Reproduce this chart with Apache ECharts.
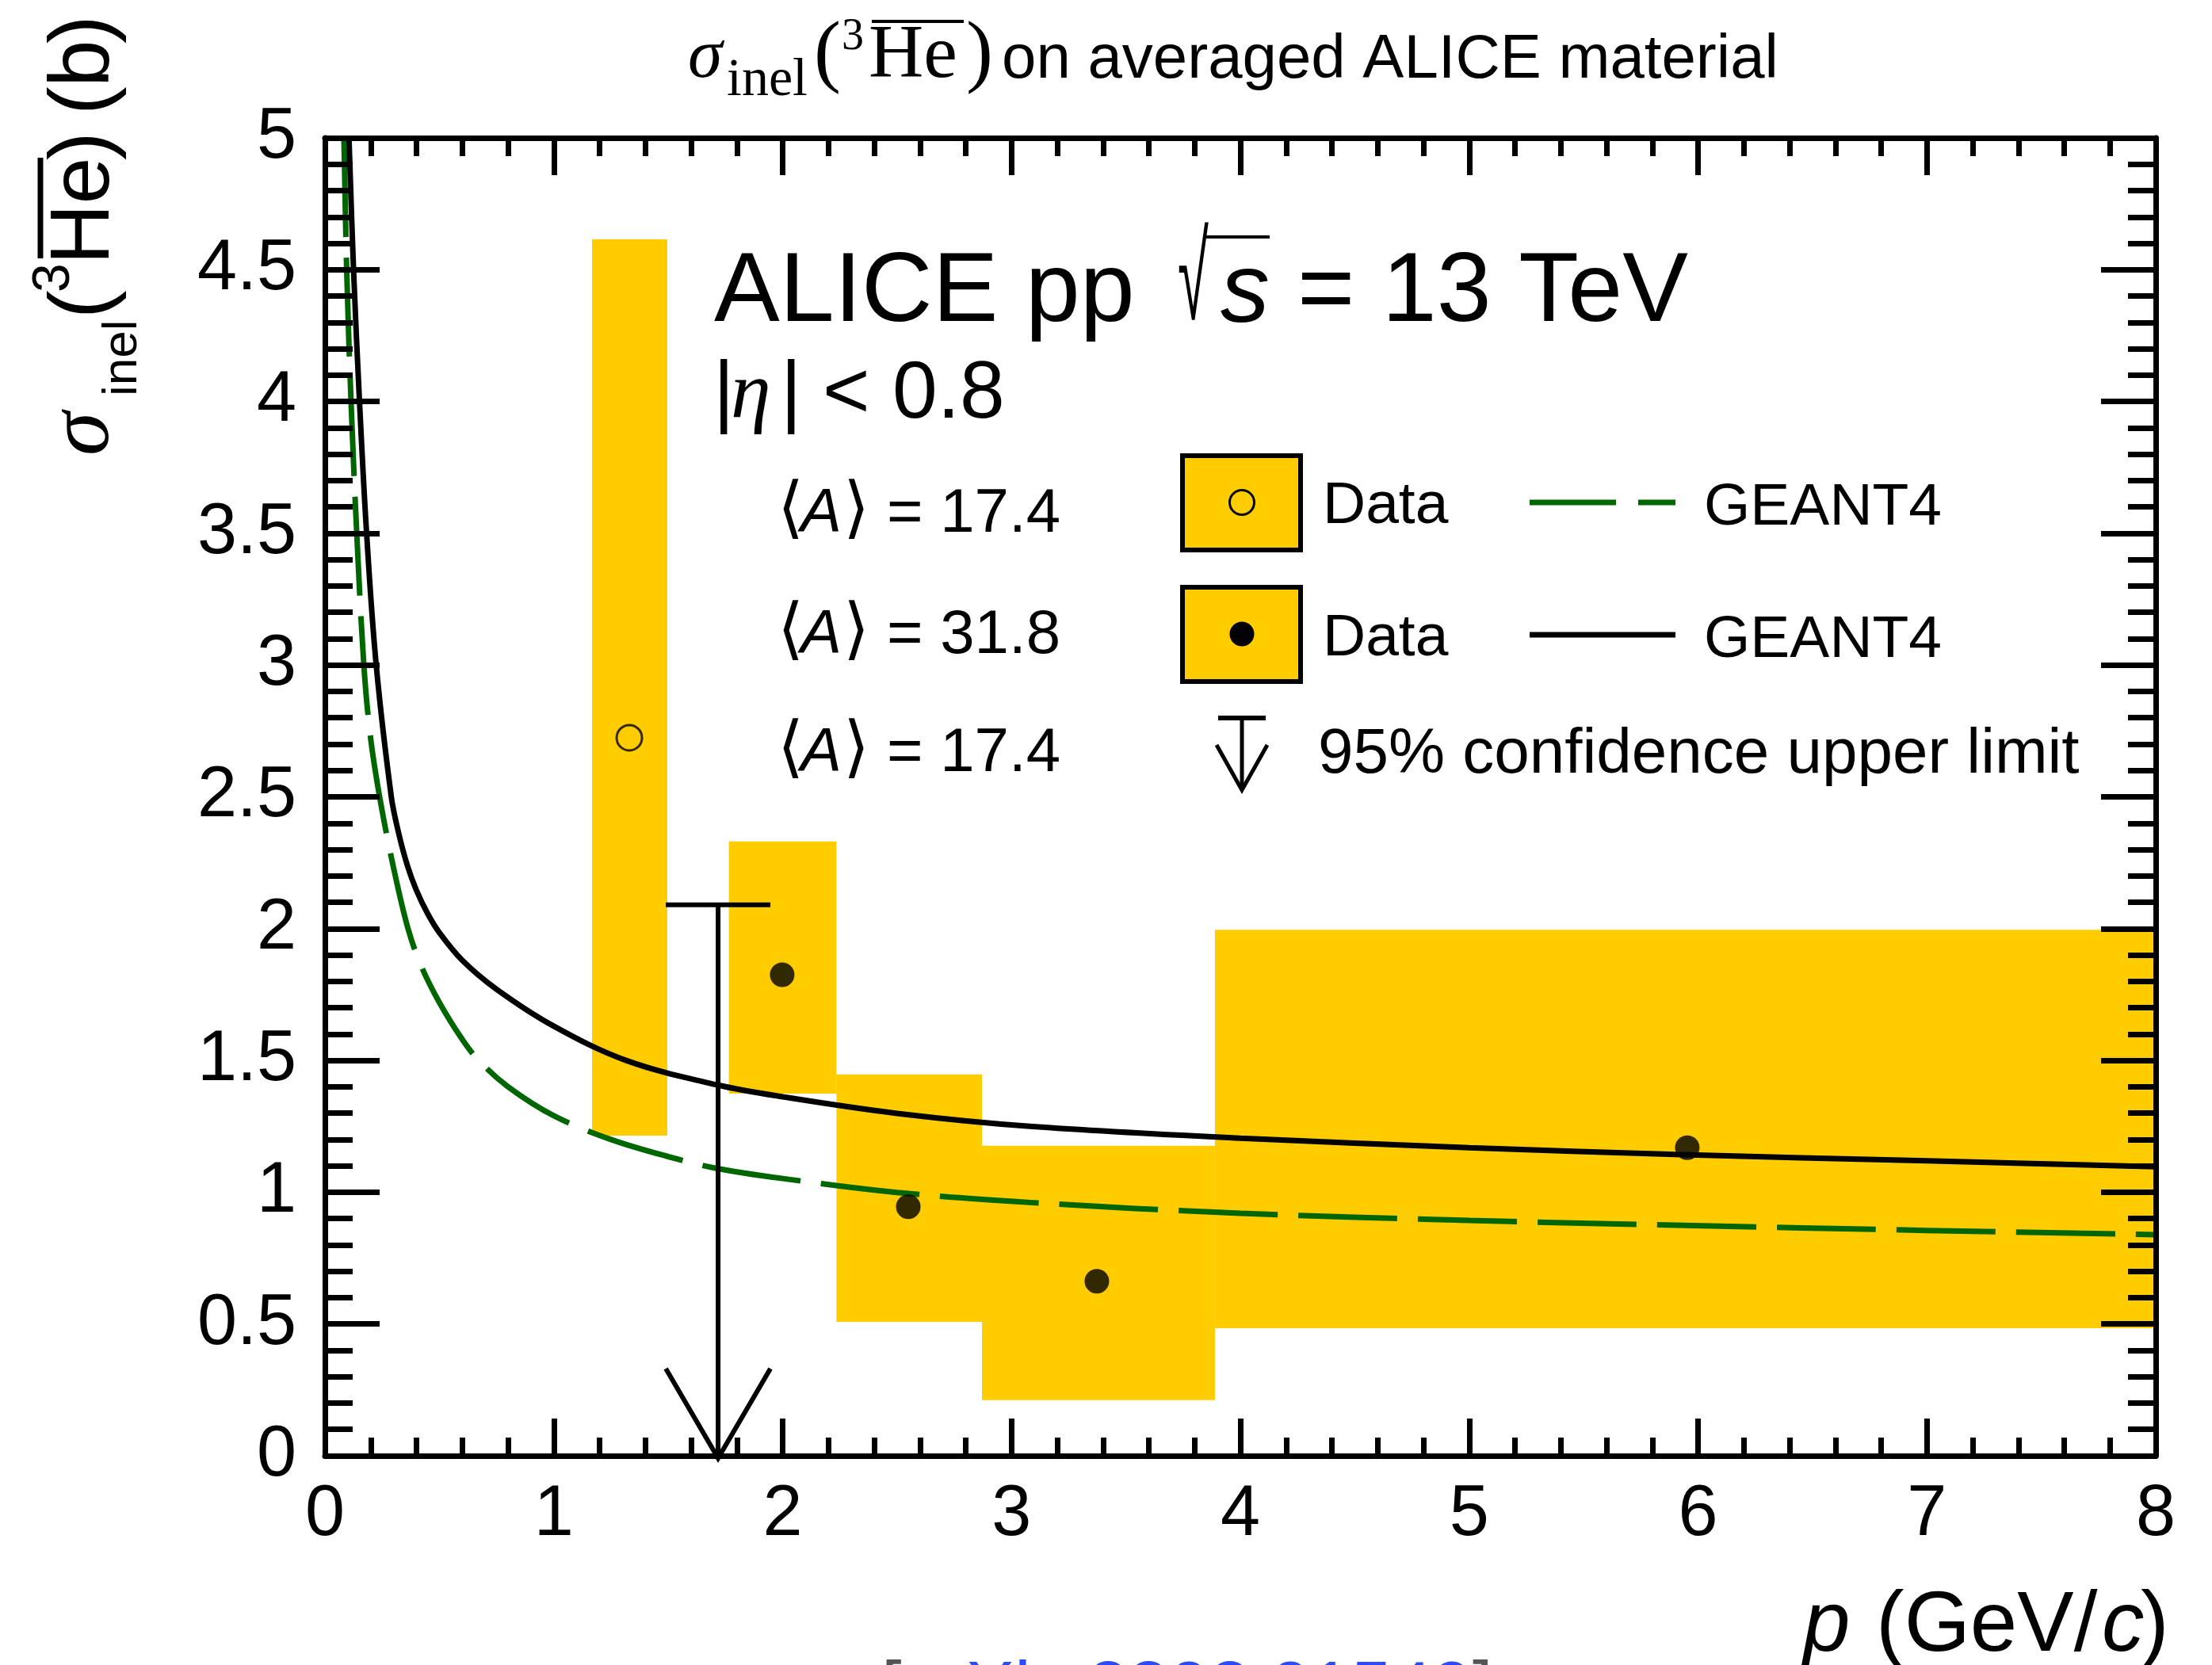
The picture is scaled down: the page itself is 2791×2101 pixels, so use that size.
<!DOCTYPE html>
<html><head><meta charset="utf-8">
<script src="https://cdn.jsdelivr.net/npm/echarts@6/dist/echarts.min.js"></script>
<style>html,body{margin:0;padding:0;background:#fff}#c{width:2791px;height:2101px}</style>
</head><body><div id="c"></div>
<script>
// ---------------- data ----------------
const xTickLabels = ['0','1','2','3','4','5','6','7','8'];
const yTickLabels = ['0','0.5','1','1.5','2','2.5','3','3.5','4','4.5','5'];

// total-uncertainty boxes (p range, sigma range)
const boxPLow    = [1.167, 1.765, 2.235, 2.871, 3.889];
const boxPHigh   = [1.496, 2.235, 2.871, 3.889, 8.0];
const boxSigLow  = [1.215, 1.374, 0.508, 0.211, 0.484];
const boxSigHigh = [4.615, 2.331, 1.447, 1.176, 1.996];

// <A> = 17.4 (open marker) and <A> = 31.8 (full markers)
const openP   = [1.330];
const openSig = [2.724];
const fullP   = [1.998, 2.549, 3.373, 5.953];
const fullSig = [1.825, 0.945, 0.662, 1.169];

// 95% CL upper limit (<A> = 17.4)
const ulP   = [1.718];
const ulSig = [2.090];

// GEANT4 <A> = 31.8 (solid black)
const g4HeavyP   = [0.105, 0.125, 0.151, 0.182, 0.224, 0.29, 0.32, 0.36, 0.40, 0.45, 0.50, 0.60, 0.75, 1.00, 1.316, 1.714, 2.00, 2.50, 3.08, 4.00, 5.00, 5.90, 7.00, 8.00];
const g4HeavySig = [5.00, 4.50, 4.00, 3.50, 3.00, 2.50, 2.37, 2.24, 2.145, 2.055, 1.985, 1.88, 1.77, 1.63, 1.50, 1.407, 1.362, 1.299, 1.250, 1.205, 1.169, 1.143, 1.119, 1.097];
// GEANT4 <A> = 17.4 (dashed green)
const g4LightP   = [0.083, 0.095, 0.114, 0.139, 0.170, 0.20, 0.243, 0.30, 0.363, 0.42, 0.50, 0.60, 0.672, 0.80, 1.00, 1.25, 1.50, 1.714, 2.00, 2.50, 3.08, 4.00, 5.00, 5.90, 7.00, 8.00];
const g4LightSig = [5.00, 4.50, 4.00, 3.50, 3.00, 2.72, 2.48, 2.23, 2.00, 1.86, 1.72, 1.58, 1.50, 1.40, 1.29, 1.20, 1.135, 1.09, 1.052, 0.999, 0.961, 0.920, 0.893, 0.875, 0.855, 0.839];

const legendA = ['17.4', '31.8', '17.4'];

// ---------------- styling ----------------
const SANS  = '"Liberation Sans", Arial, Helvetica, sans-serif';
const SERIF = '"Liberation Serif", "Times New Roman", serif';
const YELLOW = '#ffcc00';
const GREEN  = '#006600';

function T(x, base, text, size, o) {
  o = o || {};
  const fam = o.family || SANS;
  const k = fam === SERIF ? 0.27 : 0.28;
  return {
    type: 'text', x: x, y: base - k * size, z: 50,
    style: {
      text: text, fontSize: size, fontFamily: fam,
      fontStyle: o.italic ? 'italic' : 'normal',
      fill: o.color || '#000', align: o.align || 'left', verticalAlign: 'middle'
    }
  };
}
function L(x1, y1, x2, y2, w, c, dash) {
  return { type: 'line', z: 50, shape: {x1, y1, x2, y2},
    style: { stroke: c || '#000', lineWidth: w, lineDash: dash || null } };
}

const gx = 410, gy = 174, gw = 2310, gh = 1663;

const graphics = [];
// Title
graphics.push(T(868, 98, 'σ', 88, {family: SERIF, italic: true}));
graphics.push(T(917, 121, 'inel', 68, {family: SERIF}));
graphics.push(T(1027, 98, '(', 102, {family: SERIF}));
graphics.push(T(1062, 62, '3', 56, {family: SERIF}));
graphics.push(T(1096, 98, 'He', 96, {family: SERIF}));
graphics.push(L(1100, 27, 1216, 27, 4));
graphics.push(T(1219, 98, ')', 102, {family: SERIF}));
graphics.push(T(1264, 98, 'on averaged ALICE material', 78));

// y-axis title (rotated group)
const yt = [];
yt.push(T(-4, 0, 'σ', 112, {family: SERIF, italic: true}));
yt.push(T(71, 35, 'inel', 62));
yt.push(T(169, 0, '(', 107));
yt.push(T(202, -50, '3', 66));
yt.push(T(237, 0, 'He', 106));
yt.push(L(245, -86, 372, -86, 7));
yt.push(T(369, 0, ')', 107));
yt.push(T(426, 0, '(', 107));
yt.push(T(461, 0, 'b', 107));
yt.push(T(516, 0, ')', 107));
graphics.push({type: 'group', x: 137, y: 571, rotation: Math.PI / 2, children: yt});

// x-axis title
graphics.push(T(2275, 2083, 'p', 107, {italic: true}));
graphics.push(T(2367, 2083, '(GeV/', 107));
graphics.push(T(2652, 2083, 'c', 107, {italic: true}));
graphics.push(T(2701, 2083, ')', 107));

// ALICE header
graphics.push(T(901, 406, 'ALICE pp', 124));
graphics.push({type: 'text', x: 1486, y: 360, scaleX: 0.6, scaleY: 1.31, z: 50,
  style: {text: '√', fontSize: 118, fontFamily: SANS, fill: '#000', align: 'left', verticalAlign: 'middle'}});
graphics.push(L(1520, 299, 1602, 299, 4));
graphics.push(T(1540, 406, 's', 124, {italic: true}));
graphics.push(T(1637, 406, '= 13 TeV', 124));
graphics.push(T(900, 527, '|', 102));
graphics.push(T(922, 527, 'η', 102, {family: SERIF, italic: true}));
graphics.push(T(985, 527, '|', 102));
graphics.push(T(1038, 527, '< 0.8', 102));

// <A> rows
const rowBase = [671, 824, 973];
rowBase.forEach((b, i) => {
  graphics.push(T(981, b, '⟨', 85, {family: '"DejaVu Sans", sans-serif'}));
  graphics.push(T(1010, b, 'A', 78, {italic: true}));
  graphics.push(T(1064, b, '⟩', 85, {family: '"DejaVu Sans", sans-serif'}));
  graphics.push(T(1119, b, '= ' + legendA[i], 78));
});

// legend
[[572, 697], [738, 863]].forEach((r) => {
  graphics.push({type: 'rect', z: 50, shape: {x: 1492, y: r[0] + 3, width: 149, height: r[1] - r[0] - 6},
    style: {fill: YELLOW, stroke: '#000', lineWidth: 6}});
});
graphics.push({type: 'circle', z: 51, shape: {cx: 1567, cy: 634, r: 15.5}, style: {fill: null, stroke: '#000', lineWidth: 3}});
graphics.push({type: 'circle', z: 51, shape: {cx: 1567, cy: 800, r: 15.5}, style: {fill: '#000'}});
graphics.push(T(1669, 660, 'Data', 75));
graphics.push(T(1669, 827, 'Data', 75));
graphics.push(L(1930, 634, 2114, 634, 7, GREEN, [109, 28]));
graphics.push(L(1930, 801, 2114, 801, 7, '#000'));
graphics.push(T(2150, 662, 'GEANT4', 75));
graphics.push(T(2150, 829, 'GEANT4', 75));
// upper-limit legend symbol
graphics.push(L(1537, 906, 1597, 906, 6));
graphics.push(L(1567, 906, 1567, 995, 5));
graphics.push({type: 'polyline', z: 50, shape: {points: [[1535, 940], [1567, 997], [1599, 940]]},
  style: {stroke: '#000', lineWidth: 5, fill: null}});
graphics.push(T(1663, 975, '95% confidence upper limit', 80));

// cut-off reference line at the bottom of the page
graphics.push(T(1112, 2161, '[', 92, {color: '#555'}));
graphics.push(T(1137, 2161, 'arXiv:2202.01549', 92, {color: '#2a4bff'}));
graphics.push(T(1858, 2161, ']', 92, {color: '#555'}));

// ---------------- chart ----------------
const tickStyle = {color: '#000', width: 7};
function xAx(pos, labels) {
  return {
    type: 'value', min: 0, max: 8, interval: 1, position: pos, z: 10,
    axisLine: {show: true, onZero: false, lineStyle: {color: '#000', width: 7}},
    axisTick: {show: true, inside: true, length: 47, lineStyle: tickStyle},
    minorTick: {show: true, splitNumber: 5, length: 23, lineStyle: tickStyle},
    splitLine: {show: false}, minorSplitLine: {show: false},
    axisLabel: {show: labels, margin: 30, fontSize: 90, color: '#000', fontFamily: SANS,
      formatter: v => xTickLabels[Math.round(v)]}
  };
}
function yAx(pos, labels) {
  return {
    type: 'value', min: 0, max: 5, interval: 0.5, position: pos, z: 10,
    axisLine: {show: true, onZero: false, lineStyle: {color: '#000', width: 7}},
    axisTick: {show: true, inside: true, length: 69, lineStyle: tickStyle},
    minorTick: {show: true, splitNumber: 5, length: 35, lineStyle: tickStyle},
    splitLine: {show: false}, minorSplitLine: {show: false},
    axisLabel: {show: labels, margin: 36, fontSize: 90, color: '#000', fontFamily: SANS,
      formatter: v => yTickLabels[Math.round(v * 2)]}
  };
}

const boxData = boxPLow.map((_, i) => [boxPLow[i], boxPHigh[i], boxSigLow[i], boxSigHigh[i]]);

const option = {
  animation: false,
  backgroundColor: '#fff',
  grid: {left: gx, top: gy, width: gw, height: gh, containLabel: false, show: false},
  xAxis: [xAx('bottom', true), xAx('top', false)],
  yAxis: [yAx('left', true), yAx('right', false)],
  series: [
    {
      type: 'custom', name: 'boxes', z: 1, xAxisIndex: 0, yAxisIndex: 0,
      data: boxData, encode: {x: [0, 1], y: [2, 3]},
      renderItem: (params, api) => {
        const a = api.coord([api.value(0), api.value(3)]);
        const b = api.coord([api.value(1), api.value(2)]);
        return {type: 'rect', shape: {x: a[0], y: a[1], width: b[0] - a[0], height: b[1] - a[1]},
          style: {fill: YELLOW}};
      }
    },
    {
      type: 'line', name: 'GEANT4 A=17.4', z: 3, showSymbol: false, symbol: 'none',
      smooth: 0.35, clip: true,
      data: g4LightP.map((p, i) => [p, g4LightSig[i]]),
      lineStyle: {color: GREEN, width: 7, type: [125, 26]}
    },
    {
      type: 'line', name: 'GEANT4 A=31.8', z: 3, showSymbol: false, symbol: 'none',
      smooth: 0.35, clip: true,
      data: g4HeavyP.map((p, i) => [p, g4HeavySig[i]]),
      lineStyle: {color: '#000', width: 7}
    },
    {
      type: 'custom', name: 'upper limit', z: 4,
      data: ulP.map((p, i) => [p, ulSig[i]]), encode: {x: 0, y: 1},
      renderItem: (params, api) => {
        const top = api.coord([api.value(0), api.value(1)]);
        const bot = api.coord([api.value(0), 0]);
        const hw = 66, ah = 110;
        return {type: 'group', children: [
          {type: 'line', shape: {x1: top[0] - hw, y1: top[1], x2: top[0] + hw, y2: top[1]}, style: {stroke: '#000', lineWidth: 6}},
          {type: 'line', shape: {x1: top[0], y1: top[1], x2: bot[0], y2: bot[1]}, style: {stroke: '#000', lineWidth: 6}},
          {type: 'polyline', shape: {points: [[bot[0] - hw, bot[1] - ah], [bot[0], bot[1] + 3], [bot[0] + hw, bot[1] - ah]]},
            style: {stroke: '#000', lineWidth: 6, fill: null}}
        ]};
      }
    },
    {
      type: 'scatter', name: 'Data A=17.4', z: 5, symbol: 'circle', symbolSize: 32,
      data: openP.map((p, i) => [p, openSig[i]]),
      itemStyle: {color: 'rgba(0,0,0,0)', borderColor: '#000', borderWidth: 3}
    },
    {
      type: 'scatter', name: 'Data A=31.8', z: 5, symbol: 'circle', symbolSize: 31,
      data: fullP.map((p, i) => [p, fullSig[i]]),
      itemStyle: {color: '#000'}
    }
  ],
  graphic: graphics
};

const chart = echarts.init(document.getElementById('c'), null, {renderer: 'canvas', width: 2791, height: 2101});
chart.setOption(option);
</script></body></html>
